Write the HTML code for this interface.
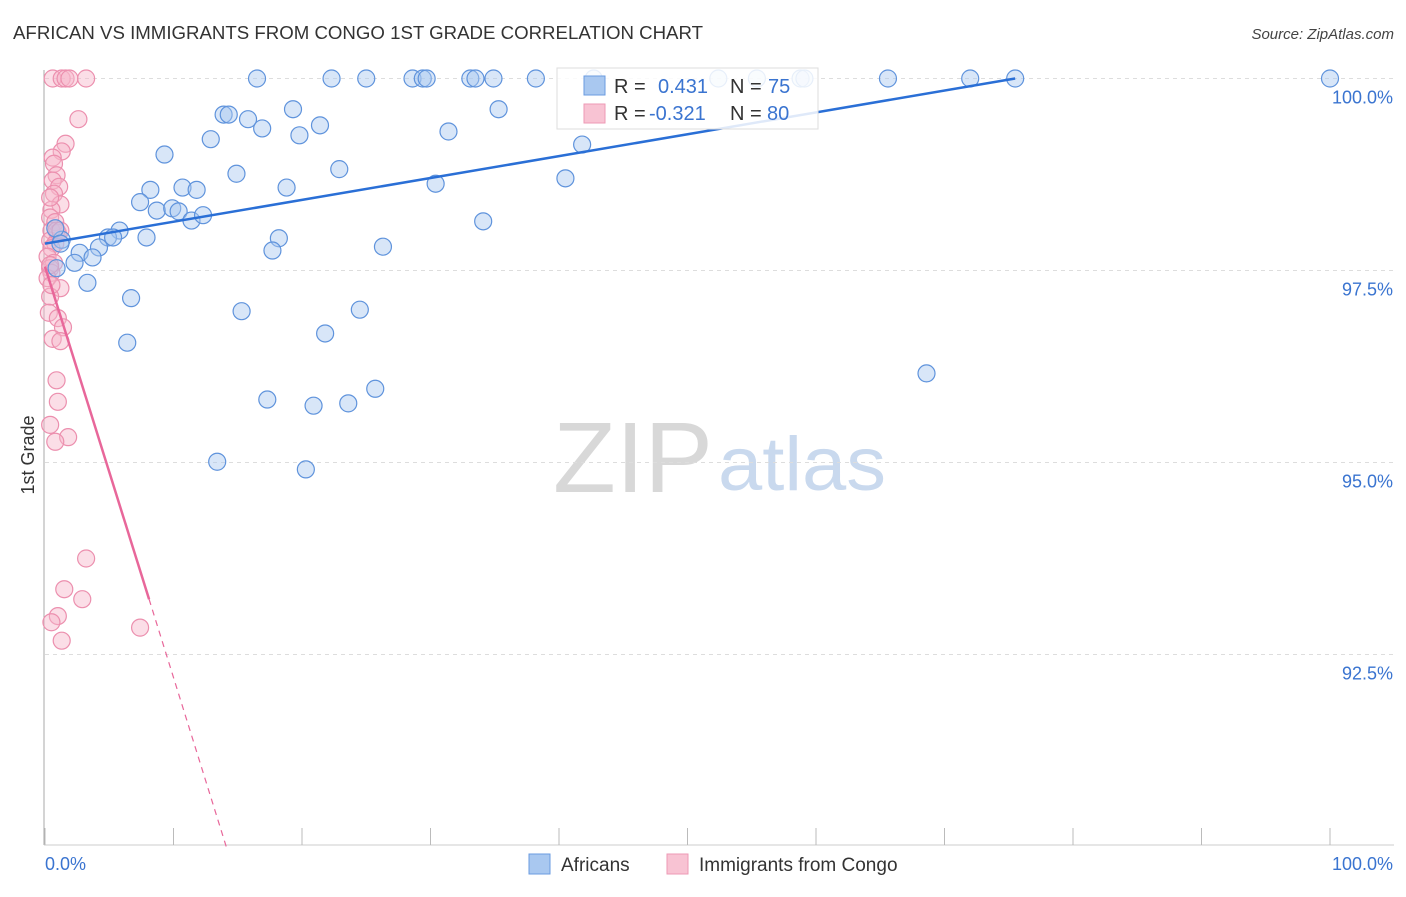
<!DOCTYPE html>
<html><head><meta charset="utf-8"><style>
body{margin:0;background:#fff;font-family:"Liberation Sans",sans-serif;}
svg text{font-family:"Liberation Sans",sans-serif;}
</style></head><body>
<svg id="chart" width="1406" height="892" xmlns="http://www.w3.org/2000/svg">
<text x="13" y="39" font-size="18" fill="#333" textLength="690" lengthAdjust="spacingAndGlyphs">AFRICAN VS IMMIGRANTS FROM CONGO 1ST GRADE CORRELATION CHART</text>
<text x="1394" y="39" font-size="15" fill="#444" text-anchor="end" font-style="italic">Source: ZipAtlas.com</text>
<g>
<text x="553" y="492" font-size="100" fill="#d8d8d8" font-family="Liberation Serif,serif" textLength="160" lengthAdjust="spacingAndGlyphs">ZIP</text>
<text x="718" y="490" font-size="76" fill="#c9d9ee" textLength="168" lengthAdjust="spacingAndGlyphs">atlas</text>
</g>
<g id="grid"></g>
<g id="axes"></g>
<g id="marks"></g>
<text transform="translate(34,455) rotate(-90)" font-size="18" fill="#333" text-anchor="middle">1st Grade</text>
<g>
<rect x="557" y="68" width="261" height="61" fill="#fff" fill-opacity="0.85" stroke="#ddd"/>
<rect x="584" y="76" width="21" height="19" fill="#a9c8f0" stroke="#6a9be0"/>
<rect x="584" y="104" width="21" height="19" fill="#f8c3d3" stroke="#ee9ab4"/>
<text x="614" y="93" font-size="20" fill="#333">R =</text>
<text x="658" y="93" font-size="20" fill="#3a74d0">0.431</text>
<text x="730" y="93" font-size="20" fill="#333">N =</text>
<text x="768" y="93" font-size="20" fill="#3a74d0">75</text>
<text x="614" y="120" font-size="20" fill="#333">R =</text>
<text x="649" y="120" font-size="20" fill="#3a74d0">-0.321</text>
<text x="730" y="120" font-size="20" fill="#333">N =</text>
<text x="767" y="120" font-size="20" fill="#3a74d0">80</text>
</g>
<g>
<rect x="529" y="854" width="21" height="20" fill="#a9c8f0" stroke="#6a9be0"/>
<text x="561" y="871" font-size="19" fill="#333">Africans</text>
<rect x="667" y="854" width="21" height="20" fill="#f8c3d3" stroke="#ee9ab4"/>
<text x="699" y="871" font-size="19" fill="#333">Immigrants from Congo</text>
</g>
</svg>
<script>
const yTicks=[100,97.5,95,92.5];
const yTickLabels=["100.0%","97.5%","95.0%","92.5%"];
const xTickLabels=["0.0%","100.0%"];
const blueX=[16.5,22.3,25.0,28.6,29.4,29.7,33.1,33.5,34.9,38.2,42.7,52.4,55.4,58.8,59.1,65.6,72.0,75.5,100,13.9,14.3,19.3,15.8,16.9,21.4,19.8,12.9,35.3,31.4,41.8,9.3,14.9,22.9,18.8,8.2,10.7,11.8,7.4,8.7,9.9,10.4,11.4,12.3,30.4,40.5,34.1,5.8,4.9,5.3,7.9,18.2,17.7,26.3,4.2,2.7,3.7,2.3,1.3,0.8,0.9,3.3,6.7,15.3,24.5,21.8,6.4,68.6,25.7,17.3,20.9,23.6,13.4,20.3,1.2];
const blueY=[100,100,100,100,100,100,100,100,100,100,100,100,100,100,100,100,100,100,100,99.53,99.53,99.60,99.47,99.35,99.39,99.26,99.21,99.60,99.31,99.14,99.01,98.76,98.82,98.58,98.55,98.58,98.55,98.39,98.28,98.31,98.27,98.15,98.22,98.63,98.70,98.14,98.02,97.93,97.93,97.93,97.92,97.76,97.81,97.80,97.73,97.67,97.60,97.90,98.05,97.53,97.34,97.14,96.97,96.99,96.68,96.56,96.16,95.96,95.82,95.74,95.77,95.01,94.91,97.85];
const pinkX=[0.6,1.3,1.6,1.9,3.2,2.6,1.6,1.3,0.6,0.7,0.9,0.6,1.1,0.7,1.2,0.5,0.4,0.8,0.5,1.0,0.4,0.8,0.5,0.2,0.7,0.4,0.5,0.2,1.2,0.4,0.3,1.0,1.4,0.6,1.2,0.9,1.0,0.4,1.8,0.8,3.2,1.5,2.9,1.0,0.5,1.3,7.4,0.4,0.4,0.5,0.9,1.2];
const pinkY=[100,100,100,100,100,99.47,99.15,99.05,98.97,98.89,98.74,98.67,98.59,98.50,98.36,98.29,98.19,98.13,98.02,97.99,97.89,97.85,97.79,97.68,97.60,97.53,97.47,97.40,97.27,97.16,96.95,96.88,96.76,96.61,96.58,96.07,95.79,95.49,95.33,95.27,93.75,93.35,93.22,93.00,92.92,92.68,92.85,98.45,97.57,97.31,98.02,98.02];
const blueTrend=[[0,97.85],[75.5,100]];
const pinkTrendSolid=[[0,97.55],[8.1,93.22]];
const pinkTrendDashed=[[8.1,93.22],[14.1,90.0]];

const X0=45,X1=1330,Y100=78.5,PX_PER=76.8;
const sx=v=>X0+(X1-X0)*v/100;
const sy=v=>Y100+(100-v)*PX_PER;
const NS="http://www.w3.org/2000/svg";
function mk(tag,attrs,parent){const e=document.createElementNS(NS,tag);for(const k in attrs)e.setAttribute(k,attrs[k]);parent.appendChild(e);return e;}
const grid=document.getElementById('grid'),axes=document.getElementById('axes'),marks=document.getElementById('marks');
yTicks.forEach((t,i)=>{
 const l=mk('line',{x1:X0,x2:1394,y1:sy(t),y2:sy(t),stroke:'#ddd','stroke-dasharray':'4,4'},grid);
 
 
 const tx=mk('text',{x:1393,y:sy(t)+25,'font-size':18,fill:'#3a74d0','text-anchor':'end'},axes);
 tx.textContent=yTickLabels[i];
 
 
});
const ax=mk('line',{x1:44,x2:44,y1:70,y2:845,stroke:'#aaa'},axes);


const bx=mk('line',{x1:44,x2:1394,y1:845,y2:845,stroke:'#ccc'},axes);


for(let i=0;i<=10;i++){
 const tk=mk('line',{x1:sx(i*10),x2:sx(i*10),y1:828,y2:845,stroke:'#bbb'},axes);
 
 
}
const xl0=mk('text',{x:45,y:870,'font-size':18,fill:'#3a74d0'},axes);xl0.textContent=xTickLabels[0];


const xl1=mk('text',{x:1393,y:870,'font-size':18,fill:'#3a74d0','text-anchor':'end'},axes);xl1.textContent=xTickLabels[1];



pinkX.forEach((x,i)=>{
 const c=mk('circle',{cx:sx(x),cy:sy(pinkY[i]),r:8.5,fill:'#f6b5c9','fill-opacity':0.45,stroke:'#ec8fae','stroke-width':1.2},marks);
 
 
});
blueX.forEach((x,i)=>{
 const c=mk('circle',{cx:sx(x),cy:sy(blueY[i]),r:8.5,fill:'#a9c8f0','fill-opacity':0.45,stroke:'#5f93dc','stroke-width':1.2},marks);
 
 
});
const bt=mk('line',{x1:sx(blueTrend[0][0]),y1:sy(blueTrend[0][1]),x2:sx(blueTrend[1][0]),y2:sy(blueTrend[1][1]),stroke:'#2a6fd6','stroke-width':2.5},marks);


const pt=mk('line',{x1:sx(pinkTrendSolid[0][0]),y1:sy(pinkTrendSolid[0][1]),x2:sx(pinkTrendSolid[1][0]),y2:sy(pinkTrendSolid[1][1]),stroke:'#e8679a','stroke-width':2.5},marks);


const pd=mk('line',{x1:sx(pinkTrendDashed[0][0]),y1:sy(pinkTrendDashed[0][1]),x2:sx(pinkTrendDashed[1][0]),y2:sy(pinkTrendDashed[1][1]),stroke:'#e8679a','stroke-width':1.2,'stroke-dasharray':'6,5'},marks);


</script>
</body></html>
